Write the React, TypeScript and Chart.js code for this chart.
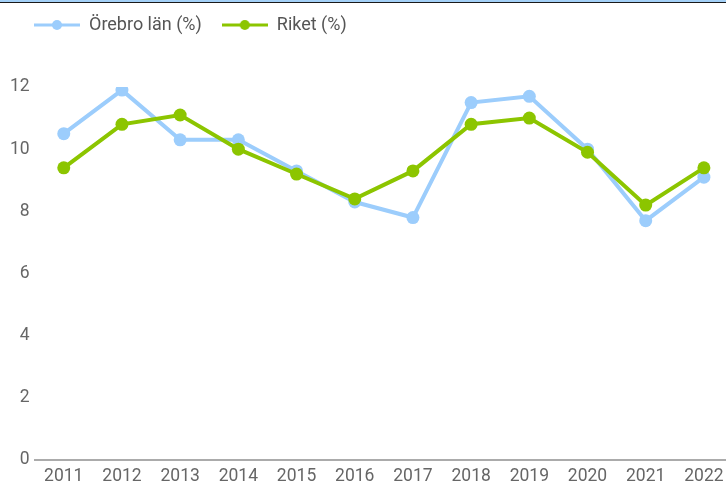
import { useEffect, useRef } from "react";
import { Chart, registerables } from "chart.js";

Chart.register(...registerables);

const years = ["2011", "2012", "2013", "2014", "2015", "2016", "2017", "2018", "2019", "2020", "2021", "2022"];
const orebro = [10.5, 11.9, 10.3, 10.3, 9.3, 8.3, 7.8, 11.5, 11.7, 10.0, 7.7, 9.1];
const riket = [9.4, 10.8, 11.1, 10.0, 9.2, 8.4, 9.3, 10.8, 11.0, 9.9, 8.2, 9.4];
const seriesNames = ["Örebro län (%)", "Riket (%)"];
const seriesColors = ["#9ccdfc", "#8cc500"];
const yMin = 0;
const yMax = 12;
const yStep = 2;

const FONT = "Roboto";
const FS = 17.5;
const LEGEND_FS = 18;

function legendSymbol(color: string): HTMLCanvasElement {
  const c = document.createElement("canvas");
  c.width = 46;
  c.height = 14;
  const ctx = c.getContext("2d")!;
  ctx.strokeStyle = color;
  ctx.lineWidth = 3;
  ctx.beginPath();
  ctx.moveTo(0, 7);
  ctx.lineTo(46, 7);
  ctx.stroke();
  ctx.fillStyle = color;
  ctx.beginPath();
  ctx.arc(23, 7, 5, 0, Math.PI * 2);
  ctx.fill();
  return c;
}

const legendTweak = {
  id: "legendTweak",
  beforeInit(chart: any) {
    const leg = chart.legend;
    if (!leg) return;
    const origFit = leg.fit;
    leg.fit = function () {
      origFit.call(this);
      this.height += 43;
    };
    const origDraw = leg.draw;
    leg.draw = function (...args: any[]) {
      const ctx = this.ctx;
      ctx.save();
      ctx.translate(9, 0);
      origDraw.apply(this, args);
      ctx.restore();
    };
  },
};

export default function App() {
  const ref = useRef<HTMLCanvasElement>(null);

  useEffect(() => {
    if (!ref.current) return;
    const symbols = seriesColors.map((c) => legendSymbol(c));
    const chart = new Chart(ref.current, {
      type: "line",
      data: {
        labels: years,
        datasets: [
          {
            label: seriesNames[0],
            data: orebro,
            borderColor: seriesColors[0],
            backgroundColor: seriesColors[0],
            borderWidth: 4,
            pointRadius: 6.5,
            pointBorderWidth: 0,
            pointBackgroundColor: seriesColors[0],
            order: 2,
            clip: 0,
          },
          {
            label: seriesNames[1],
            data: riket,
            borderColor: seriesColors[1],
            backgroundColor: seriesColors[1],
            borderWidth: 4,
            pointRadius: 6.5,
            pointBorderWidth: 0,
            pointBackgroundColor: seriesColors[1],
            order: 1,
            clip: 0,
          },
        ],
      },
      options: {
        responsive: false,
        animation: false,
        layout: { padding: { left: 5, right: 7, top: 0, bottom: 0 } },
        plugins: {
          tooltip: { enabled: false },
          legend: {
            position: "top",
            align: "start",
            labels: {
              usePointStyle: true,
              pointStyleWidth: 46,
              padding: 20,
              color: "#555555",
              font: { family: FONT, size: LEGEND_FS },
              generateLabels: (ch: any) =>
                ch.data.datasets.map((ds: any, i: number) => ({
                  text: ds.label,
                  fillStyle: ds.borderColor,
                  strokeStyle: ds.borderColor,
                  lineWidth: 0,
                  pointStyle: symbols[i],
                  hidden: false,
                  datasetIndex: i,
                  fontColor: "#555555",
                })),
            },
          },
        },
        scales: {
          x: {
            offset: true,
            grid: { display: false, drawTicks: false },
            border: { display: true, color: "#ababab", width: 2 },
            ticks: { color: "#666666", font: { family: FONT, size: FS }, padding: 6 },
          },
          y: {
            min: yMin,
            max: yMax,
            grid: { display: false, drawTicks: false },
            border: { display: false },
            ticks: { stepSize: yStep, color: "#666666", font: { family: FONT, size: FS }, padding: 5 },
          },
        },
      },
      plugins: [legendTweak],
    });
    return () => chart.destroy();
  }, []);

  return (
    <div style={{ position: "fixed", left: 0, top: 0, width: 726, height: 484, overflow: "hidden", background: "#fff" }}>
      <div style={{ position: "absolute", left: 0, top: -4, width: 740, height: 497 }}>
        <canvas ref={ref} width={740} height={497} style={{ width: 740, height: 497, display: "block" }} />
      </div>
      <div style={{ position: "absolute", left: 0, top: 0, width: 726, height: 2, background: "#a3d0f7", borderBottom: "1px solid #1a1a1a" }} />
    </div>
  );
}
